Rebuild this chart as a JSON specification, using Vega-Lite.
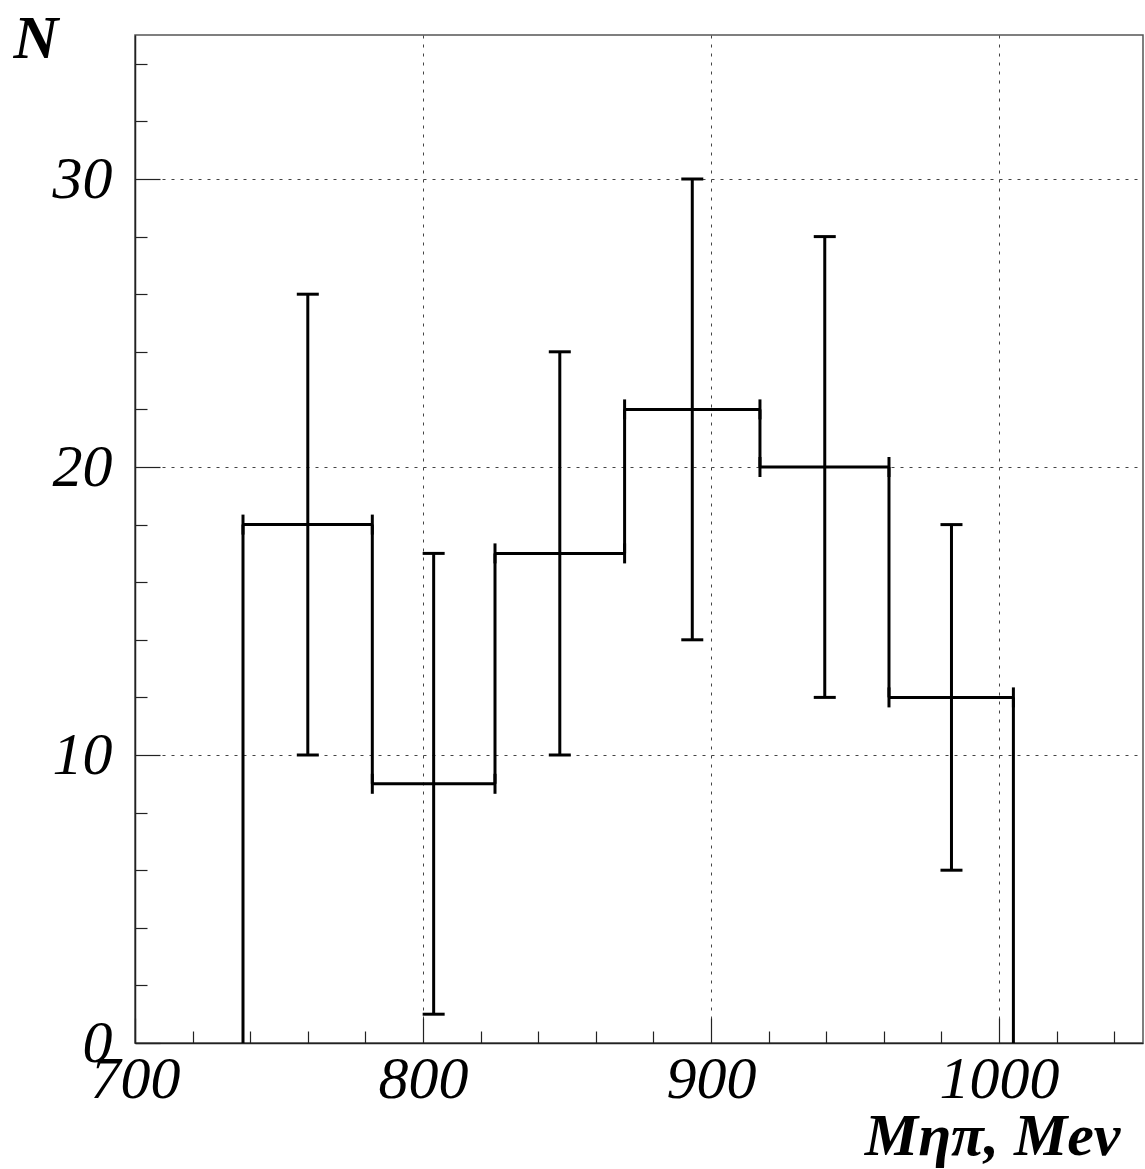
{
  "$schema": "https://vega.github.io/schema/vega-lite/v6.json",
  "width": 1008,
  "height": 1008,
  "autosize": {"type": "none"},
  "padding": {"left": 135, "top": 35, "right": 2, "bottom": 126},
  "background": "white",
  "config": {
    "view": {"stroke": "#555", "strokeWidth": 1.5},
    "axis": {
      "labelFont": "Liberation Serif",
      "labelFontStyle": "italic",
      "labelFontSize": 60,
      "labelColor": "black",
      "domainColor": "#222",
      "domainWidth": 1.5,
      "tickColor": "#222",
      "tickWidth": 1.2,
      "gridColor": "#444",
      "gridDash": [3, 6],
      "gridWidth": 1
    }
  },
  "datasets": {
    "bins": [
      {"lo": 737.5, "hi": 782.4, "center": 760.0, "n": 18, "errLo": 10, "errHi": 26},
      {"lo": 782.4, "hi": 825.0, "center": 803.7, "n": 9, "errLo": 1, "errHi": 17},
      {"lo": 825.0, "hi": 870.0, "center": 847.5, "n": 17, "errLo": 10, "errHi": 24},
      {"lo": 870.0, "hi": 917.0, "center": 893.5, "n": 22, "errLo": 14, "errHi": 30},
      {"lo": 917.0, "hi": 961.8, "center": 939.5, "n": 20, "errLo": 12, "errHi": 28},
      {"lo": 961.8, "hi": 1005.0, "center": 983.5, "n": 12, "errLo": 6, "errHi": 18}
    ],
    "edges": [
      {"x": 737.5, "from": 0, "to": 18},
      {"x": 782.4, "from": 18, "to": 9},
      {"x": 825.0, "from": 9, "to": 17},
      {"x": 870.0, "from": 17, "to": 22},
      {"x": 917.0, "from": 22, "to": 20},
      {"x": 961.8, "from": 20, "to": 12},
      {"x": 1005.0, "from": 12, "to": 0}
    ]
  },
  "layer": [
    {
      "data": {"name": "bins"},
      "mark": {"type": "rule", "color": "black", "strokeWidth": 3},
      "encoding": {
        "x": {
          "field": "lo", "type": "quantitative",
          "scale": {"domain": [700, 1050], "nice": false, "zero": false},
          "axis": {
            "values": [700, 720, 740, 760, 780, 800, 820, 840, 860, 880, 900, 920, 940, 960, 980, 1000, 1020, 1040],
            "format": "d",
            "tickSize": {"condition": {"test": "datum.value % 100 === 0", "value": -25}, "value": -12},
            "labelExpr": "datum.value % 100 === 0 ? datum.label : ''",
            "labelPadding": 32,
            "labelFlush": false,
            "labelOverlap": false,
            "grid": true,
            "gridOpacity": {"condition": {"test": "datum.value % 100 === 0", "value": 1}, "value": 0},
            "title": "Mηπ, Mev",
            "titleFont": "Liberation Serif",
            "titleFontStyle": "italic",
            "titleFontWeight": "bold",
            "titleFontSize": 60,
            "titleColor": "black",
            "titleAlign": "right",
            "titleAnchor": null,
            "titleBaseline": "alphabetic",
            "titleX": 985,
            "titleY": 111
          }
        },
        "x2": {"field": "hi"},
        "y": {
          "field": "n", "type": "quantitative",
          "scale": {"domain": [0, 35], "nice": false, "zero": true},
          "axis": {
            "values": [0, 2, 4, 6, 8, 10, 12, 14, 16, 18, 20, 22, 24, 26, 28, 30, 32, 34],
            "format": "d",
            "tickSize": {"condition": {"test": "datum.value % 10 === 0", "value": -25}, "value": -12},
            "labelExpr": "datum.value % 10 === 0 ? datum.label : ''",
            "labelPadding": 48,
            "labelFlush": false,
            "labelOverlap": false,
            "grid": true,
            "gridOpacity": {"condition": {"test": "datum.value % 10 === 0", "value": 1}, "value": 0},
            "title": "N",
            "titleFont": "Liberation Serif",
            "titleFontStyle": "italic",
            "titleFontWeight": "bold",
            "titleFontSize": 62,
            "titleColor": "black",
            "titleAngle": 0,
            "titleAlign": "left",
            "titleAnchor": null,
            "titleBaseline": "alphabetic",
            "titleX": -122,
            "titleY": 22
          }
        }
      }
    },
    {
      "data": {"name": "edges"},
      "mark": {"type": "rule", "color": "black", "strokeWidth": 3},
      "encoding": {
        "x": {"field": "x", "type": "quantitative", "title": "Mηπ, Mev"},
        "y": {"field": "from", "type": "quantitative", "title": "N"},
        "y2": {"field": "to"}
      }
    },
    {
      "data": {"name": "bins"},
      "mark": {"type": "tick", "orient": "vertical", "color": "black", "opacity": 1, "thickness": 3, "size": 20},
      "encoding": {
        "x": {"field": "lo", "type": "quantitative", "title": "Mηπ, Mev"},
        "y": {"field": "n", "type": "quantitative", "title": "N"}
      }
    },
    {
      "data": {"name": "bins"},
      "mark": {"type": "tick", "orient": "vertical", "color": "black", "opacity": 1, "thickness": 3, "size": 20},
      "encoding": {
        "x": {"field": "hi", "type": "quantitative", "title": "Mηπ, Mev"},
        "y": {"field": "n", "type": "quantitative", "title": "N"}
      }
    },
    {
      "data": {"name": "bins"},
      "mark": {"type": "rule", "color": "black", "strokeWidth": 3},
      "encoding": {
        "x": {"field": "center", "type": "quantitative", "title": "Mηπ, Mev"},
        "y": {"field": "errLo", "type": "quantitative", "title": "N"},
        "y2": {"field": "errHi"}
      }
    },
    {
      "data": {"name": "bins"},
      "mark": {"type": "tick", "orient": "horizontal", "color": "black", "opacity": 1, "thickness": 3, "size": 22},
      "encoding": {
        "x": {"field": "center", "type": "quantitative", "title": "Mηπ, Mev"},
        "y": {"field": "errLo", "type": "quantitative", "title": "N"}
      }
    },
    {
      "data": {"name": "bins"},
      "mark": {"type": "tick", "orient": "horizontal", "color": "black", "opacity": 1, "thickness": 3, "size": 22},
      "encoding": {
        "x": {"field": "center", "type": "quantitative", "title": "Mηπ, Mev"},
        "y": {"field": "errHi", "type": "quantitative", "title": "N"}
      }
    }
  ]
}
